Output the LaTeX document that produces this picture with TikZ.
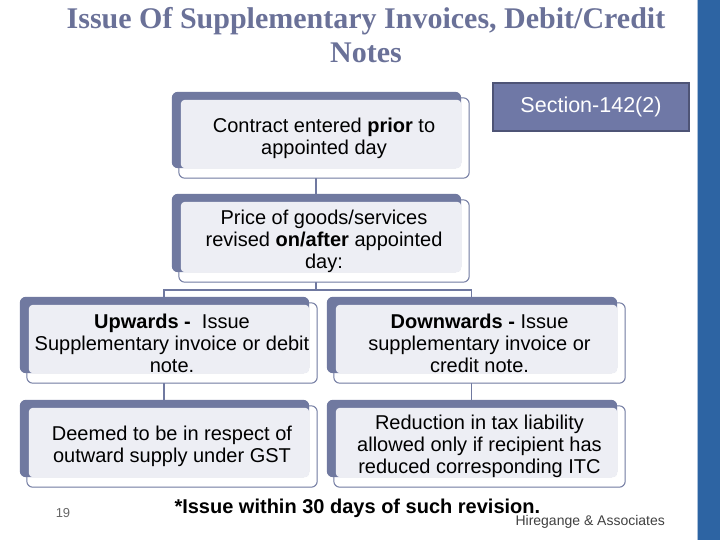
\documentclass[tikz,border=0pt]{standalone}
\usepackage{fontspec}
\setmainfont{Liberation Sans}
\newfontfamily\titlefont{Liberation Serif}
\usetikzlibrary{backgrounds}

\definecolor{slate}{RGB}{112,121,160}
\definecolor{cardfill}{RGB}{237,238,244}
\definecolor{titlecol}{RGB}{106,113,152}
\definecolor{barblue}{RGB}{45,100,163}
\definecolor{secfill}{RGB}{111,120,166}
\definecolor{secline}{RGB}{78,84,118}

\tikzset{
  card/.style={minimum width=290pt, minimum height=80pt, inner sep=0pt, align=center,
    font=\fontsize{20}{22}\selectfont},
  secbox/.style={fill=secfill, draw=secline, line width=2pt, minimum width=196pt,
    minimum height=48pt, text=white, font=\fontsize{21.5}{24}\selectfont},
  link/.style={draw=slate, line width=1.5pt},
}

% Karte: weisser Rahmen, Schatten oben links, helle Flaeche
\newcommand{\cardback}[1]{%
  \filldraw[fill=white, draw=slate, line width=1pt, rounded corners=6pt]
    (#1.north west) rectangle (#1.south east);
  \fill[slate, rounded corners=6pt]
    ([shift={(-7pt,6pt)}]#1.north west) rectangle ([shift={(-8pt,10pt)}]#1.south east);
  \fill[cardfill, rounded corners=4pt]
    ([shift={(2pt,-2pt)}]#1.north west) rectangle ([shift={(-8pt,10pt)}]#1.south east);
}

\begin{document}
\begin{tikzpicture}[x=1pt, y=-1pt]
    \useasboundingbox (0,0) rectangle (720,540);

    % Randbalken rechts
    \fill[barblue] (698,0) rectangle (720,540);
    \draw[barblue!40, line width=1pt] (697.5,0) -- (697.5,540);

    % Titel
    \node[titlecol, align=center, font=\titlefont\bfseries\fontsize{30}{34}\selectfont] (title) at (366,35)
        {Issue Of Supplementary Invoices, Debit/Credit\\Notes};

    % Karten
    \node[card] (contract) at (324,138) {Contract entered \textbf{prior} to\\appointed day};
    \node[card, minimum height=82pt] (price) at (324,241) {Price of goods/services\\revised \textbf{on/after} appointed\\day:};
    \node[card] (up) at (172,343) {\textbf{Upwards -}\ \ Issue\\Supplementary invoice or debit\\note.};
    \node[card, minimum width=291pt] (down) at (479.5,343) {\textbf{Downwards -} Issue\\supplementary invoice or\\credit note.};
    \node[card, minimum height=81pt] (deemed) at (172,446.5) {Deemed to be in respect of\\outward supply under GST};
    \node[card, minimum width=291pt, minimum height=81pt] (reduce) at (479.5,446.5)
        {Reduction in tax liability\\allowed only if recipient has\\reduced corresponding ITC};

    \node[secbox] (sec) at (591,107) {Section-142(2)};

    % Fusszeile
    \node[anchor=west, font=\bfseries\fontsize{20}{22}\selectfont] (note) at (171,508)
        {*Issue within 30 days of such revision.};
    \node[anchor=west, text=black!75, font=\fontsize{14}{16}\selectfont] (firm) at (512,522)
        {Hiregange \& Associates};
    \node[text=black!60, font=\fontsize{13}{15}\selectfont] (page) at (63,513) {19};

    \begin{scope}[on background layer]
        % Verbindungen
        \coordinate (fork) at (316,290);
        \draw[link] ([xshift=-8pt]contract.south) -- ([xshift=-8pt]price.north);
        \draw[link] ([xshift=-8pt]price.south) -- (fork);
        \draw[link] ([xshift=-8pt]up.north) |- (fork) -| ([xshift=-8pt]down.north);
        \draw[link] ([xshift=-8pt]up.south) -- ([xshift=-8pt]deemed.north);
        \draw[link] ([xshift=-8pt]down.south) -- ([xshift=-8pt]reduce.north);

        \cardback{contract}
        \cardback{price}
        \cardback{up}
        \cardback{down}
        \cardback{deemed}
        \cardback{reduce}
    \end{scope}
\end{tikzpicture}
\end{document}
